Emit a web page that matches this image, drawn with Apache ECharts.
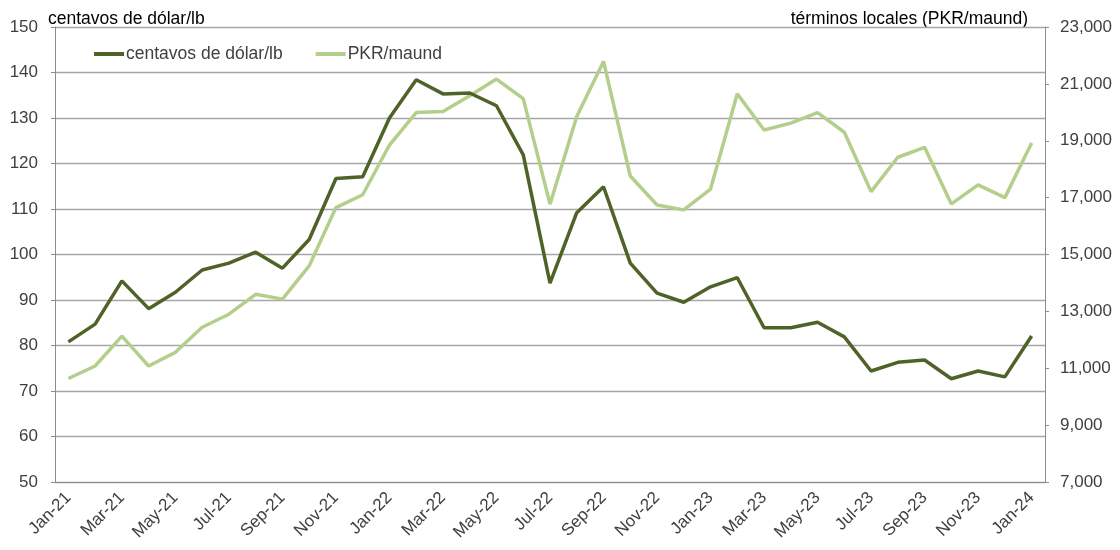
<!DOCTYPE html>
<html>
<head>
<meta charset="utf-8">
<script src="https://cdn.jsdelivr.net/npm/echarts@6/dist/echarts.min.js"></script>
<style>html,body{margin:0;padding:0;background:#fff}#c{width:1120px;height:550px}</style>
</head>
<body>
<div id="c"></div>
<script>
const categories = ['Jan-21','Feb-21','Mar-21','Apr-21','May-21','Jun-21','Jul-21','Aug-21','Sep-21','Oct-21','Nov-21','Dec-21',
 'Jan-22','Feb-22','Mar-22','Apr-22','May-22','Jun-22','Jul-22','Aug-22','Sep-22','Oct-22','Nov-22','Dec-22',
 'Jan-23','Feb-23','Mar-23','Apr-23','May-23','Jun-23','Jul-23','Aug-23','Sep-23','Oct-23','Nov-23','Dec-23','Jan-24'];
const usCents = [80.8,84.7,94.2,88.1,91.7,96.6,98.1,100.5,97.0,103.3,116.7,117.1,
 130.0,138.4,135.3,135.5,132.7,121.9,93.7,109.2,114.9,98.1,91.5,89.5,
 92.9,94.9,83.9,83.9,85.1,81.9,74.4,76.3,76.8,72.7,74.4,73.1,82.1];
const pkrMaund = [10640,11080,12130,11080,11560,12440,12900,13600,13430,14600,16650,17100,
 18850,19990,20030,20580,21170,20480,16770,19850,21790,17760,16740,16570,
 17300,20650,19380,19620,19990,19300,17210,18420,18770,16780,17450,17000,18920];
const leftTitle = 'centavos de dólar/lb';
const rightTitle = 'términos locales (PKR/maund)';
const seriesNames = ['centavos de dólar/lb','PKR/maund'];

const chart = echarts.init(document.getElementById('c'));
const font = 'Liberation Sans, Arial, sans-serif';
chart.setOption({
  animation: false,
  textStyle: {fontFamily: font},
  grid: {left: 55, right: 75, top: 27, bottom: 68},
  legend: {
    left: 89, top: 40, itemGap: 33, itemWidth: 30, itemHeight: 4,
    icon: 'rect',
    textStyle: {fontSize: 17.5, color: '#404040', fontFamily: font, padding: [0, 0, 0, -3]},
    data: seriesNames
  },
  graphic: [
    {type: 'text', left: 48, top: 10, style: {text: leftTitle, fontSize: 17.5, fill: '#000', fontFamily: font}},
    {type: 'text', right: 92, top: 10, style: {text: rightTitle, fontSize: 17.5, fill: '#000', fontFamily: font}}
  ],
  xAxis: {
    type: 'category', data: categories, boundaryGap: true,
    axisLine: {lineStyle: {color: '#8c8c8c', width: 1}},
    axisTick: {interval: 1, length: 5, lineStyle: {color: '#8c8c8c'}},
    axisLabel: {interval: 1, rotate: 45, fontSize: 17, color: '#404040', fontFamily: font, margin: 13}
  },
  yAxis: [
    {type: 'value', min: 50, max: 150, interval: 10, position: 'left',
     axisLine: {show: true, lineStyle: {color: '#8c8c8c'}},
     axisTick: {show: true, length: 4, lineStyle: {color: '#8c8c8c'}},
     axisLabel: {fontSize: 17, color: '#404040', fontFamily: font, margin: 17},
     splitLine: {show: true, lineStyle: {color: '#a6a6a6', width: 1.3}}},
    {type: 'value', min: 7000, max: 23000, interval: 2000, position: 'right',
     axisLine: {show: true, lineStyle: {color: '#8c8c8c'}},
     axisTick: {show: true, length: 4, lineStyle: {color: '#8c8c8c'}},
     axisLabel: {fontSize: 17, color: '#404040', fontFamily: font, margin: 15,
       formatter: v => v.toLocaleString('en-US')},
     splitLine: {show: false}}
  ],
  series: [
    {name: seriesNames[0], type: 'line', yAxisIndex: 0, data: usCents, showSymbol: false,
     lineStyle: {color: '#4f6228', width: 3.5}, itemStyle: {color: '#4f6228'}, z: 3},
    {name: seriesNames[1], type: 'line', yAxisIndex: 1, data: pkrMaund, showSymbol: false,
     lineStyle: {color: '#b3cf8b', width: 3.5}, itemStyle: {color: '#b3cf8b'}, z: 2}
  ]
});
</script>
</body>
</html>
